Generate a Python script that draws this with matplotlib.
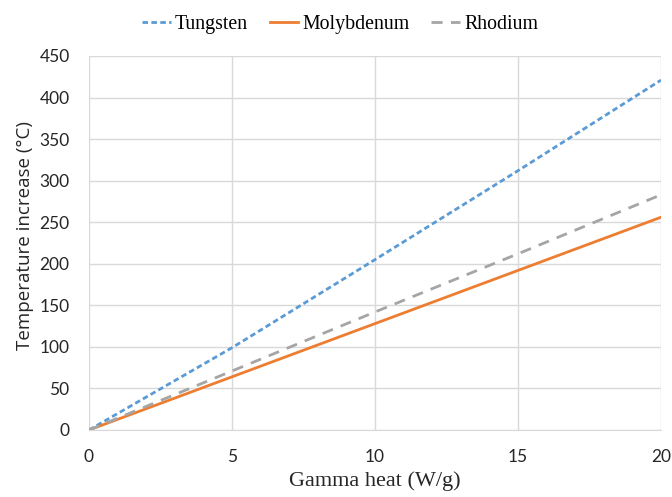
import matplotlib
matplotlib.use("Agg")
import matplotlib.pyplot as plt

gamma_heat = [0, 5, 10, 15, 20]
tungsten = [0, 99, 205, 312, 421]
molybdenum = [0, 64, 128, 192, 256]
rhodium = [0, 71, 142, 212, 283]
x_ticks = [0, 5, 10, 15, 20]
y_ticks = [0, 50, 100, 150, 200, 250, 300, 350, 400, 450]

fig = plt.figure(figsize=(6.72, 4.97), dpi=100)
ax = fig.add_axes([89/672, (497-430)/497, (661-89)/672, (430-56)/497])

ax.plot(gamma_heat, tungsten, color="#5B9BD5", lw=2.0, ls=(0, (2, 1.2)), label="Tungsten")
ax.plot(gamma_heat, molybdenum, color="#ED7D31", lw=2.0, ls="-", label="Molybdenum")
ax.plot(gamma_heat, rhodium, color="#A5A5A5", lw=2.0, ls=(0, (4, 3)), label="Rhodium")

ax.set_xlim(0, 20)
ax.set_ylim(0, 450)
ax.set_xticks(x_ticks)
ax.set_yticks(y_ticks)
ax.grid(True, color="#D9D9D9", lw=1.0)
ax.set_axisbelow(True)
for s in ["left", "top", "right"]:
    ax.spines[s].set_visible(False)
ax.spines["bottom"].set_color("#D9D9D9")
ax.tick_params(length=0, labelsize=12.5, labelcolor="#262626")
for lab in ax.get_xticklabels() + ax.get_yticklabels():
    lab.set_family("Lato")
ax.tick_params(axis="x", pad=14)
ax.tick_params(axis="y", pad=14)

ax.set_xlabel("Gamma heat (W/g)", family="Liberation Serif", fontsize=16, color="#262626", labelpad=4)
ax.set_ylabel("Temperature increase (°C)", family="Open Sans", fontsize=13.5, color="#262626")
ax.yaxis.set_label_coords(-0.097, 0.52)

leg = fig.legend(loc="upper center", bbox_to_anchor=(0.506, 1.005), ncol=3, frameon=False,
                 prop={"family": "Liberation Serif", "size": 14.3}, handlelength=1.45,
                 handletextpad=0.2, columnspacing=1.1)

fig.savefig("out.png", dpi=100)
